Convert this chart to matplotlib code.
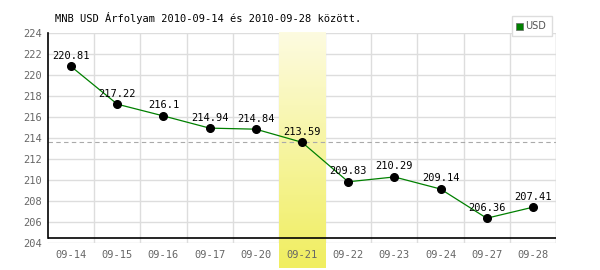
import matplotlib
import matplotlib.pyplot as plt
import numpy as np

matplotlib.use('Agg')

# Daily USD rates shown on the chart
dates = ['09-14', '09-15', '09-16', '09-17', '09-20', '09-21',
         '09-22', '09-23', '09-24', '09-27', '09-28']
rates = [220.81, 217.22, 216.1, 214.94, 214.84, 213.59,
         209.83, 210.29, 209.14, 206.36, 207.41]
highlight = '09-21'
y_ticks = [204, 206, 208, 210, 212, 214, 216, 218, 220, 222, 224]
title = 'MNB USD Árfolyam 2010-09-14 és 2010-09-28 között.'

mono = 'DejaVu Sans Mono'

fig = plt.figure(figsize=(6, 2.7), dpi=100)
ax = fig.add_axes([0.08, 0.1, 0.8467, 0.7778])

x = np.arange(len(dates))
ax.set_xlim(-0.5, len(dates) - 0.5)
ax.set_ylim(204, 224)

# grid
for yv in y_ticks:
    ax.axhline(yv, color='#dddddd', lw=1, zorder=0)
for xv in np.arange(0.5, len(dates), 1):
    ax.axvline(xv, color='#dddddd', lw=1, zorder=0)
ax.axvline(len(dates) - 0.5, color='#dddddd', lw=1, zorder=0)

# highlighted day, yellow gradient running below the axis
hi = dates.index(highlight)
grad = np.linspace(0, 1, 100).reshape(-1, 1)
cmap = matplotlib.colors.LinearSegmentedColormap.from_list('y', ['#fdfbe0', '#f0ee60'])
ax.imshow(grad, cmap=cmap, aspect='auto', origin='upper',
          extent=[hi - 0.5, hi + 0.5, 201.6, 224], zorder=0.5, clip_on=False)

# reference line at highlighted value
ax.axhline(rates[hi], color='#aaaaaa', lw=0.8, ls=(0, (4, 3)), zorder=1)

ax.plot(x, rates, color='#008000', lw=0.9, zorder=2)
ax.plot(x, rates, 'o', color='black', ms=5.5, zorder=3)
for xi, r in zip(x, rates):
    ax.annotate(f'{r:g}', (xi, r), xytext=(0, 4), textcoords='offset points',
                ha='center', va='bottom', fontsize=7.5, family=mono, zorder=4)

for s in ax.spines.values():
    s.set_visible(False)
ax.plot([-0.5, -0.5], [204.48, 224], color='black', lw=1.2, clip_on=False, zorder=3)
ax.axhline(204.48, color='black', lw=1.2, zorder=3)

ax.set_yticks(y_ticks)
ax.set_yticklabels([str(v) for v in y_ticks], family=mono, fontsize=7.5, color='#666666')
ax.set_xticks(x)
ax.set_xticklabels(dates, family=mono, fontsize=7.5, color='#666666')
ax.tick_params(length=0, pad=4)
ax.tick_params(axis='x', pad=5)

fig.text(0.092, 0.935, title, family=mono, fontsize=7.5, va='center')

# legend box
fig.patches.append(plt.Rectangle((0.853, 0.867), 0.067, 0.075, transform=fig.transFigure,
                                 facecolor='white', edgecolor='#dddddd', lw=1))
fig.patches.append(plt.Rectangle((0.86, 0.89), 0.011, 0.026, transform=fig.transFigure,
                                 facecolor='#008000', edgecolor='#666666', lw=0.5))
fig.text(0.875, 0.903, 'USD', fontsize=7, color='#555555', va='center')

fig.savefig('out.png', dpi=100)
